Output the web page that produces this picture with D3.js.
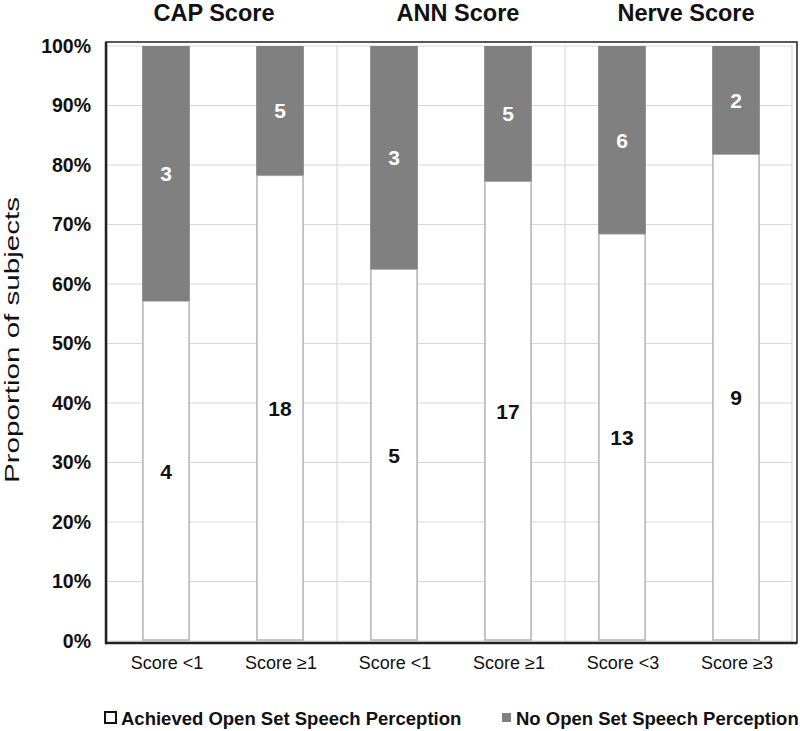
<!DOCTYPE html>
<html>
<head>
<meta charset="utf-8">
<script src="https://cdn.jsdelivr.net/npm/d3@7"></script>
<style>
  html, body { margin: 0; padding: 0; background: #fff; }
  svg { display: block; font-family: "Liberation Sans", Arial, sans-serif; }
</style>
</head>
<body>
<svg id="chart" width="800" height="731"></svg>
<script>
// ---- data ----
const groups = ["CAP Score", "ANN Score", "Nerve Score"];
const categories = ["Score <1", "Score ≥1", "Score <1", "Score ≥1", "Score <3", "Score ≥3"];
const achieved = [4, 18, 5, 17, 13, 9];
const notAchieved = [3, 5, 3, 5, 6, 2];
const yTicks = [0, 10, 20, 30, 40, 50, 60, 70, 80, 90, 100];
const legendLabels = ["Achieved Open Set Speech Perception", "No Open Set Speech Perception"];

// ---- layout ----
const svg = d3.select("#chart");
const plot = { left: 107, right: 792, top: 46, bottom: 641 };
const frame = { left: 106, right: 797, top: 42, bottom: 643 };
const GRAY = "#808080";

const idx = categories.map((_, i) => i);
const x = d3.scaleBand().domain(idx).range([109, 793]).paddingInner(0.595).paddingOuter(0.2975);
const y = d3.scaleLinear().domain([0, 100]).range([plot.bottom, plot.top]);

const rows = idx.map(i => {
  const tot = achieved[i] + notAchieved[i];
  return { i, a: achieved[i], n: notAchieved[i], p: achieved[i] / tot * 100 };
});

// gridlines (horizontal)
svg.append("g").selectAll("line").data(yTicks).join("line")
  .attr("x1", plot.left).attr("x2", plot.right)
  .attr("y1", d => y(d)).attr("y2", d => y(d))
  .attr("stroke", "#d9d9d9").attr("stroke-width", 1.2);

// vertical group separators
const step = x.step();
const sepX = [plot.left, x(1) + x.bandwidth() / 2 + step / 2, x(3) + x.bandwidth() / 2 + step / 2, plot.right];
svg.append("g").selectAll("line").data(sepX).join("line")
  .attr("x1", d => d).attr("x2", d => d)
  .attr("y1", plot.top).attr("y2", frame.bottom)
  .attr("stroke", "#d9d9d9").attr("stroke-width", 1.2);

// bars: white (achieved)
svg.append("g").selectAll("rect").data(rows).join("rect")
  .attr("x", d => x(d.i)).attr("width", x.bandwidth())
  .attr("y", d => y(d.p)).attr("height", d => y(0) - y(d.p) - 1)
  .attr("fill", "#fff").attr("stroke", "#b3b3b3").attr("stroke-width", 1.5);

// bars: gray (not achieved)
svg.append("g").selectAll("rect").data(rows).join("rect")
  .attr("x", d => x(d.i) - 0.75).attr("width", x.bandwidth() + 1.5)
  .attr("y", y(100)).attr("height", d => y(d.p) - y(100))
  .attr("fill", GRAY);

// value labels
svg.append("g").selectAll("text").data(rows).join("text")
  .attr("x", d => x(d.i) + x.bandwidth() / 2)
  .attr("y", d => (y(d.p) + y(0)) / 2)
  .attr("dy", "0.36em").attr("text-anchor", "middle")
  .attr("font-size", 21).attr("font-weight", "bold").attr("fill", "#111")
  .text(d => d.a);
svg.append("g").selectAll("text").data(rows).join("text")
  .attr("x", d => x(d.i) + x.bandwidth() / 2)
  .attr("y", d => (y(d.p) + y(100)) / 2)
  .attr("dy", "0.36em").attr("text-anchor", "middle")
  .attr("font-size", 21).attr("font-weight", "bold").attr("fill", "#fff")
  .text(d => d.n);

// frame
svg.append("rect")
  .attr("x", frame.left).attr("y", frame.top)
  .attr("width", frame.right - frame.left).attr("height", frame.bottom - frame.top)
  .attr("fill", "none").attr("stroke", "#222").attr("stroke-width", 1.5);
svg.append("line").attr("x1", frame.left).attr("x2", frame.left)
  .attr("y1", frame.top).attr("y2", frame.bottom + 1.2)
  .attr("stroke", "#222").attr("stroke-width", 2.5);
svg.append("line").attr("x1", frame.left).attr("x2", frame.right)
  .attr("y1", frame.bottom).attr("y2", frame.bottom)
  .attr("stroke", "#222").attr("stroke-width", 2.5);

// y axis labels
const yAxis = d3.axisLeft(y).tickValues(yTicks).tickFormat(d => d + "%").tickSize(0).tickPadding(0);
const gy = svg.append("g").attr("transform", "translate(91,0)").call(yAxis);
gy.select(".domain").remove();
gy.selectAll("text").attr("font-size", 19.5).attr("font-weight", "bold").attr("fill", "#111")
  .attr("font-family", "Liberation Sans, Arial, sans-serif");

// x axis labels
const xAxis = d3.axisBottom(x).tickFormat(i => categories[i]).tickSize(0).tickPadding(0);
const gx = svg.append("g").attr("transform", "translate(1,656)").call(xAxis);
gx.select(".domain").remove();
gx.selectAll("text").attr("font-size", 18).attr("fill", "#111")
  .attr("font-family", "Liberation Sans, Arial, sans-serif");

// group titles
const titleOffsets = [-9, 7, 7];
svg.append("g").selectAll("text").data(groups).join("text")
  .attr("x", (d, g) => (x(2 * g) + x(2 * g + 1) + x.bandwidth()) / 2 + titleOffsets[g])
  .attr("y", 21).attr("text-anchor", "middle")
  .attr("font-size", 23.5).attr("font-weight", "bold").attr("fill", "#111")
  .text(d => d);

// y title
svg.append("text")
  .attr("transform", "translate(19,340) rotate(-90)")
  .attr("text-anchor", "middle")
  .attr("font-size", 20).attr("fill", "#111")
  .attr("textLength", 286).attr("lengthAdjust", "spacingAndGlyphs")
  .text("Proportion of subjects");

// legend
const lg = svg.append("g");
lg.append("rect").attr("x", 105).attr("y", 712).attr("width", 11).attr("height", 11)
  .attr("fill", "#fff").attr("stroke", "#111").attr("stroke-width", 2);
lg.append("text").attr("x", 121).attr("y", 725)
  .attr("font-size", 18.5).attr("font-weight", "bold").attr("fill", "#111").text(legendLabels[0]);
lg.append("rect").attr("x", 502).attr("y", 713).attr("width", 9).attr("height", 9)
  .attr("fill", GRAY);
lg.append("text").attr("x", 516).attr("y", 725)
  .attr("font-size", 18.5).attr("font-weight", "bold").attr("fill", "#111").text(legendLabels[1]);
</script>
</body>
</html>
